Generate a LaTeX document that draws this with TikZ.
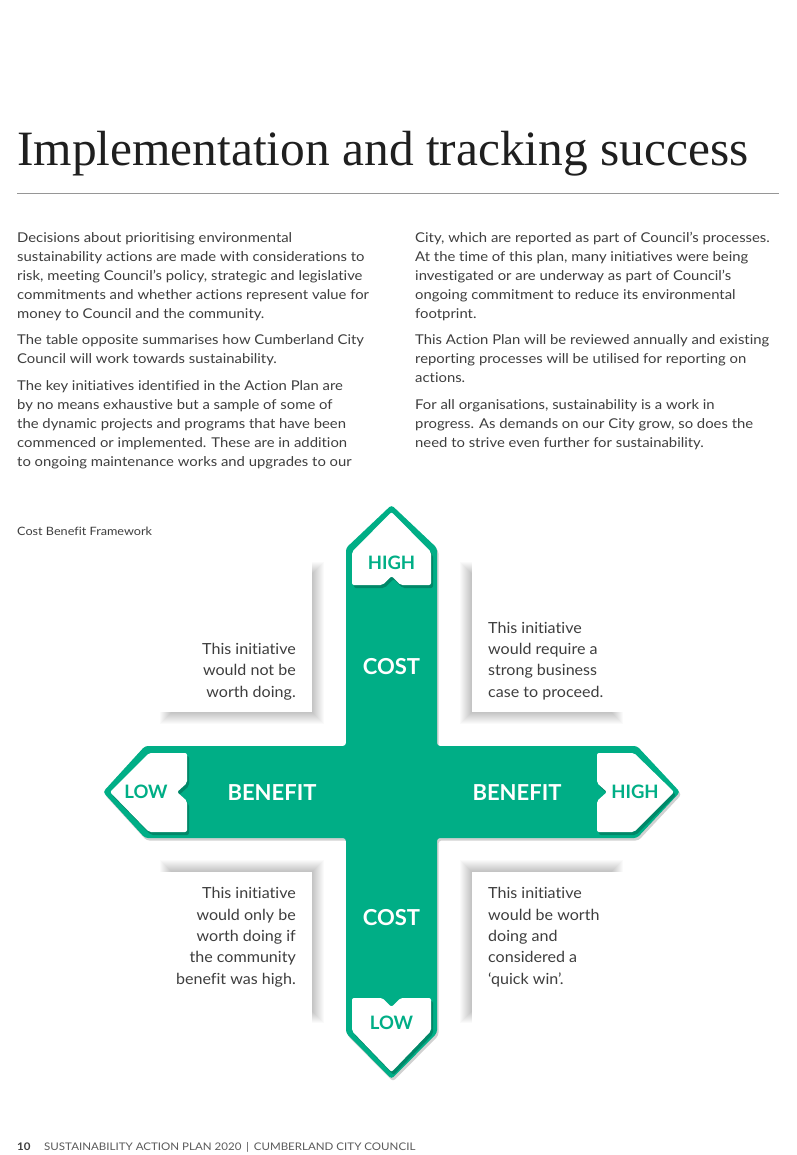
\documentclass[tikz,border=0pt]{standalone}
\usepackage{fontspec}
\setmainfont{Lato}
\newfontfamily\titlefont{Liberation Serif}
\newfontfamily\bodyfont[FakeStretch=1.1,Ligatures=NoCommon]{Lato}
\newfontfamily\quadfont[FakeStretch=1.05,Ligatures=NoCommon]{Lato}
\definecolor{cgreen}{RGB}{0,174,134}
\definecolor{txt}{RGB}{62,62,62}
\definecolor{rulegray}{RGB}{150,150,150}
\newcommand\softbox[6]{%
  \foreach \k in {0,...,12}{\fill[black,opacity=0.018] (#1+#5-6+\k,#2+#6-6+\k) rectangle (#3+#5+6-\k,#4+#6+6-\k);}
  \fill[white] (#1,#2) rectangle (#3,#4);}
\newcommand\crossshape[1]{\fill[#1,rounded corners=3pt] (346,548) -- (391.5,505) -- (437,548) -- (437,746) -- (637,746) -- (680,792) -- (637,838) -- (437,838) -- (437,1033) -- (391.5,1079) -- (346,1033) -- (346,838) -- (145,838) -- (103,792) -- (145,746) -- (346,746) -- cycle;}
\newcommand\topinset[1]{\fill[#1,rounded corners=2pt] (352,585) -- (352,552) -- (391.5,512) -- (431,552) -- (431,585) -- (400.5,585) -- (391.5,576) -- (382.5,585) -- cycle;}
\newcommand\botinset[1]{\fill[#1,rounded corners=2pt] (352,998) -- (382.5,998) -- (391.5,1007) -- (400.5,998) -- (431,998) -- (431,1031) -- (391.5,1072) -- (352,1031) -- cycle;}
\newcommand\leftinset[1]{\fill[#1,rounded corners=2pt] (187,753) -- (187,783) -- (177,792) -- (187,801) -- (187,832) -- (149,832) -- (110,792) -- (149,753) -- cycle;}
\newcommand\rightinset[1]{\fill[#1,rounded corners=2pt] (597,753) -- (634,753) -- (674,792) -- (634,832) -- (597,832) -- (597,801) -- (607,792) -- (597,783) -- cycle;}
\begin{document}
\begin{tikzpicture}[x=1pt,y=-1pt,
  body/.style={anchor=base west,inner sep=0pt,align=left,text=txt,font=\bodyfont\fontsize{13.5}{19}\selectfont},
  quadr/.style={anchor=base east,inner sep=0pt,align=right,text=txt,font=\quadfont\fontsize{15.3}{21.3}\selectfont},
  quadl/.style={anchor=base west,inner sep=0pt,align=left,text=txt,font=\quadfont\fontsize{15.3}{21.3}\selectfont},
  glab/.style={inner sep=0pt,text=white,font=\fontsize{22}{22}\bfseries\selectfont},
  gtag/.style={inner sep=0pt,text=cgreen,font=\fontsize{18.5}{18.5}\bfseries\selectfont}]
\useasboundingbox (0,0) rectangle (796,1155);
\fill[white] (0,0) rectangle (796,1155);
% title
\node[anchor=base west,inner sep=0pt,text=black!88,font=\titlefont\fontsize{49.4}{50}\selectfont] (title) at (17,166) {Implementation and tracking success};
\draw[rulegray,line width=1pt] (17,194) -- (779,194);
% body (anchor = baseline of last line)
\node[body] (p1) at (17,318) {Decisions about prioritising environmental\\sustainability actions are made with considerations to\\risk, meeting Council’s policy, strategic and legislative\\commitments and whether actions represent value for\\money to Council and the community.};
\node[body] (p2) at (17,363) {The table opposite summarises how Cumberland City\\Council will work towards sustainability.};
\node[body] (p3) at (17,466) {The key initiatives identified in the Action Plan are\\by no means exhaustive but a sample of some of\\the dynamic projects and programs that have been\\commenced or implemented. These are in addition\\to ongoing maintenance works and upgrades to our};
\node[body] (p4) at (415,318) {City, which are reported as part of Council’s processes.\\At the time of this plan, many initiatives were being\\investigated or are underway as part of Council’s\\ongoing commitment to reduce its environmental\\footprint.};
\node[body] (p5) at (415,382) {This Action Plan will be reviewed annually and existing\\reporting processes will be utilised for reporting on\\actions.};
\node[body] (p6) at (415,447) {For all organisations, sustainability is a work in\\progress. As demands on our City grow, so does the\\need to strive even further for sustainability.};
\node[anchor=base west,inner sep=0pt,text=txt,font=\bodyfont\fontsize{11.5}{12}\selectfont] (cap) at (17,535) {Cost Benefit Framework};
% quadrant boxes
\softbox{160}{562}{312}{712}{6}{6}
\softbox{472}{562}{623}{712}{-6}{6}
\softbox{160}{872}{312}{1023}{6}{-6}
\softbox{472}{872}{623}{1023}{-6}{-6}
\node[quadr] (ul) at (296,697) {This initiative\\would not be\\worth doing.};
\node[quadl] (ur) at (488,697) {This initiative\\would require a\\strong business\\case to proceed.};
\node[quadr] (ll) at (296,984) {This initiative\\would only be\\worth doing if\\the community\\benefit was high.};
\node[quadl] (lr) at (488,984) {This initiative\\would be worth\\doing and\\considered a\\‘quick win’.};
% cross
\begin{scope}[shift={(1.5,2.5)}]\crossshape{black,opacity=0.18}\end{scope}
\crossshape{cgreen}
\begin{scope}[shift={(2,3)}]
\topinset{black,opacity=0.22}\botinset{black,opacity=0.22}\leftinset{black,opacity=0.22}\rightinset{black,opacity=0.22}
\end{scope}
\topinset{white}\botinset{white}\leftinset{white}\rightinset{white}
\node[glab] (costT) at (391.5,667) {COST};
\node[glab] (costB) at (391.5,918) {COST};
\node[glab] (benL) at (272,793) {BENEFIT};
\node[glab] (benR) at (517,793) {BENEFIT};
\node[gtag] (highT) at (391.5,563) {HIGH};
\node[gtag] (lowB) at (391.5,1023) {LOW};
\node[gtag] (lowL) at (146,792) {LOW};
\node[gtag] (highR) at (635,792) {HIGH};
% footer
\node[anchor=base west,inner sep=0pt,text=txt,font=\bodyfont\fontsize{10.5}{11}\bfseries\selectfont] (pg) at (17,1150) {10};
\node[anchor=base west,inner sep=0pt,text=txt!85,font=\bodyfont\fontsize{10.5}{11}\selectfont] (foot) at (44,1150) {SUSTAINABILITY ACTION PLAN 2020 \,|\, CUMBERLAND CITY COUNCIL};
\end{tikzpicture}
\end{document}
